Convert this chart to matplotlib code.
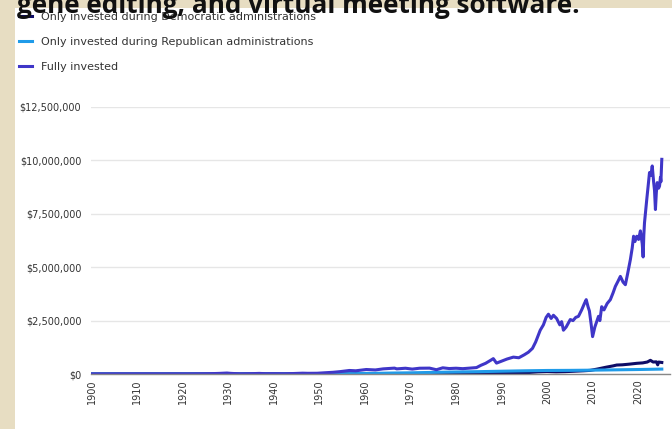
import matplotlib
matplotlib.use("Agg")
import matplotlib.pyplot as plt
from matplotlib.patches import Rectangle
from matplotlib.ticker import FuncFormatter

# series values in thousands of dollars
full_years = [1900, 1903, 1906, 1909, 1912, 1915, 1918, 1921, 1924, 1926, 1928, 1929.7,
              1930.5, 1932.5, 1935, 1936.8, 1938.2, 1940, 1942.3, 1944, 1946.3, 1947.5,
              1949.5, 1951, 1953, 1954.5, 1956.6, 1958, 1960.3, 1962.3, 1964, 1966.5,
              1967, 1968.9, 1970.4, 1972, 1974.2, 1975.7, 1977.1, 1978.5, 1980, 1981.5,
              1983, 1984.5, 1985.5, 1986.5, 1987.6, 1988.2, 1988.9, 1990, 1991.2, 1992.6,
              1993.8, 1995, 1995.9, 1996.8, 1997.5, 1998.5, 1999.2, 1999.8, 2000.3, 2000.9,
              2001.4, 2002.1, 2002.8, 2003.2, 2003.6, 2004.2, 2005.1, 2005.7, 2006.3, 2006.9,
              2007.6, 2008.2, 2008.6, 2009.0, 2009.3, 2009.7, 2010.0, 2010.5, 2010.9, 2011.3,
              2011.6, 2012.0, 2012.5, 2013.2, 2013.9, 2014.5, 2015.0, 2015.6, 2016.1, 2016.7,
              2017.2, 2017.7, 2018.3, 2018.7, 2019.0, 2019.3, 2019.7, 2020.1, 2020.5, 2020.9,
              2021.1, 2021.25, 2021.4, 2021.9, 2022.2, 2022.5, 2022.8, 2023.1, 2023.4, 2023.6,
              2023.8, 2024.0, 2024.2, 2024.5, 2024.7, 2024.9, 2025.0, 2025.2]
full_values = [3, 4, 6, 6, 7, 6, 7, 6, 10, 15, 28, 45,
               30, 8, 15, 28, 14, 16, 12, 20, 38, 32,
               35, 55, 80, 110, 165, 150, 210, 190, 240, 275,
               240, 270, 230, 270, 275, 200, 290, 255, 270, 250,
               275, 300, 410, 500, 640, 720, 510, 600, 700, 790,
               760, 900, 1020, 1200, 1500, 2050, 2300, 2650, 2800, 2600,
               2750, 2600, 2300, 2450, 2050, 2200, 2550, 2500, 2650, 2700,
               3000, 3300, 3480, 3150, 2950, 2300, 1750, 2200, 2450, 2700,
               2500, 3150, 3000, 3300, 3480, 3800, 4100, 4350, 4570, 4300,
               4180, 4700, 5360, 5900, 6450, 6200, 6450, 6300, 6700, 6100,
               5480, 6500, 7080, 8180, 8800, 9430, 9300, 9740, 9000, 8600,
               7700, 8500, 8960, 8700, 8800, 9200, 9000, 10050]

dem_years = [1900, 1950, 1970, 1985, 1990, 1993, 1996, 1998, 2000, 2002, 2004, 2006,
             2008, 2009.5, 2011, 2013, 2014.5, 2015.3, 2016.5, 2018, 2019.7, 2021, 2022,
             2022.7, 2023.3, 2024.0, 2024.3, 2024.5, 2025.2]
dem_values = [1, 5, 10, 15, 25, 40, 70, 100, 115, 100, 110, 130,
              150, 170, 230, 320, 380, 420, 430, 460, 500, 520, 560,
              640, 560, 570, 430, 560, 540]

rep_years = [1900, 1950, 1955, 1958, 1962, 1966, 1970, 1975, 1980, 1985, 1990, 1995,
             2000, 2005, 2010, 2015, 2020, 2025.2]
rep_values = [1, 3, 8, 20, 30, 45, 55, 75, 95, 110, 130, 150,
              165, 170, 180, 195, 210, 230]

x_ticks = list(range(1900, 2021, 10))
y_ticks = [0, 2500000, 5000000, 7500000, 10000000, 12500000]

labels = ["Only invested during Democratic administrations",
          "Only invested during Republican administrations",
          "Fully invested"]
colors = ["#0e0c66", "#1f9be9", "#3f36c8"]

fig = plt.figure(figsize=(6.72, 4.29), dpi=100, facecolor="#e7ddc2")
# white card behind the chart
fig.patches.append(Rectangle((15 / 672, 0), 1, 421 / 429, transform=fig.transFigure,
                             facecolor="white", edgecolor="none", zorder=-10))

ax = fig.add_axes([91 / 672, 55 / 429, 579 / 672, 267 / 429])
ax.set_facecolor("white")
ax.set_zorder(1)

k = 1000
ax.plot(dem_years, [v * k for v in dem_values], color=colors[0], lw=2.2, label=labels[0])
ax.plot(rep_years, [v * k for v in rep_values], color=colors[1], lw=2.2, label=labels[1])
ax.plot(full_years, [v * k for v in full_values], color=colors[2], lw=2.2, label=labels[2])

ax.set_xlim(1899.85, 2027.0)
ax.set_ylim(0, 12500000)
ax.set_xticks(x_ticks)
ax.set_xticklabels([str(y) for y in x_ticks], rotation=90, fontsize=7, color="#333333")
ax.set_yticks(y_ticks)
ax.yaxis.set_major_formatter(FuncFormatter(lambda v, p: f"${v:,.0f}"))
ax.tick_params(axis="y", length=0, pad=7, labelsize=7, labelcolor="#333333")
ax.tick_params(axis="x", length=0, pad=4)
ax.grid(axis="y", color="#e6e6e6", lw=1)
ax.set_axisbelow(True)
for s in ["top", "right", "left"]:
    ax.spines[s].set_visible(False)
ax.spines["bottom"].set_color("#888888")
ax.spines["bottom"].set_linewidth(1)

leg = fig.legend(loc="upper left", bbox_to_anchor=(19 / 672, 1 - 12 / 429),
                 frameon=False, fontsize=8, handlelength=1.2, handletextpad=0.8,
                 labelspacing=1.35, borderpad=0, borderaxespad=0)
for t in leg.get_texts():
    t.set_color("#333333")
leg.set_zorder(5)

fig.text(17 / 672, 1 - 13 / 429, "gene editing, and virtual meeting software.",
         fontsize=18.8, fontweight="bold", family=["Open Sans", "DejaVu Sans"],
         color="#111111", va="baseline", ha="left", zorder=10)

fig.savefig("out.png", dpi=100, facecolor=fig.get_facecolor())
